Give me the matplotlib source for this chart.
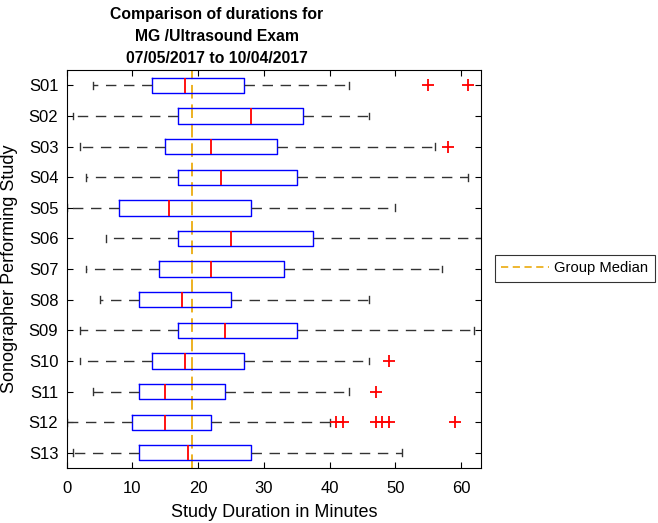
import matplotlib
matplotlib.use("Agg")
import matplotlib.pyplot as plt
from matplotlib.lines import Line2D

plt.rcParams['font.family'] = ['Liberation Sans', 'DejaVu Sans']

# sonographer labels (top to bottom)
labels = ['S01', 'S02', 'S03', 'S04', 'S05', 'S06', 'S07',
          'S08', 'S09', 'S10', 'S11', 'S12', 'S13']

# box stats (minutes)
whislo = [4, 1, 2, 3, 0, 6, 3, 5, 2, 2, 4, 0, 1]
q1 = [13, 17, 15, 17, 8, 17, 14, 11, 17, 13, 11, 10, 11]
med = [18, 28, 22, 23.5, 15.5, 25, 22, 17.5, 24, 18, 15, 15, 18.5]
q3 = [27, 36, 32, 35, 28, 37.5, 33, 25, 35, 27, 24, 22, 28]
whishi = [43, 46, 56, 61, 50, 64, 57, 46, 62, 46, 43, 40, 51]
fliers = [[55, 61], [], [58], [], [], [], [], [], [], [49], [47],
          [41, 42, 47, 48, 49, 59], []]

group_median = 19

stats = []
for i in range(len(labels)):
    stats.append(dict(label=labels[i], whislo=whislo[i], q1=q1[i], med=med[i],
                      q3=q3[i], whishi=whishi[i], fliers=fliers[i]))

fig = plt.figure(figsize=(6.58, 5.23), dpi=100)
ax = fig.add_axes([0.1013, 0.105, 0.6297, 0.761])

dash = (0, (7.5, 5.5))
positions = list(range(1, len(labels) + 1))
ax.bxp(stats, positions=positions, vert=False, widths=0.5, capwidths=0.22,
       boxprops=dict(color='blue', linewidth=1.0),
       medianprops=dict(color='red', linewidth=1.3),
       whiskerprops=dict(color='#333333', linewidth=1.0, linestyle=dash),
       capprops=dict(color='#333333', linewidth=1.0),
       flierprops=dict(marker='+', markeredgecolor='red', markersize=8,
                       markeredgewidth=1.3, linestyle='none'))

ax.axvline(group_median, color='#EDB120', linestyle=(0, (7, 3)), linewidth=1.4, zorder=0)

ax.set_xlim(0, 63)
ax.set_ylim(13.5, 0.5)
ax.set_yticks(positions)
ax.set_yticklabels(labels)
ax.set_xticks([0, 10, 20, 30, 40, 50, 60])
ax.tick_params(direction='in', top=True, right=True, labelsize=12, length=4)
ax.tick_params(axis='x', pad=9)
ax.tick_params(axis='y', pad=6)

ax.set_xlabel('Study Duration in Minutes', fontsize=13, labelpad=6)
ax.set_ylabel('Sonographer Performing Study', fontsize=13, labelpad=8)
ax.set_title('Comparison of durations for\nMG /Ultrasound Exam\n07/05/2017 to 10/04/2017',
             fontsize=11.3, fontweight='bold', linespacing=1.6, x=0.363, pad=5)

handle = Line2D([], [], color='#EDB120', linestyle=(0, (4, 2.5)), linewidth=1.3)
leg = fig.legend([handle], ['Group Median'], loc='center left',
                 bbox_to_anchor=(0.752, 0.487), fontsize=10.6, frameon=True,
                 fancybox=False, edgecolor='black', handlelength=3.2,
                 handletextpad=0.4, borderpad=0.45, borderaxespad=0)
leg.get_frame().set_linewidth(0.8)

fig.savefig('out.png', dpi=100)
